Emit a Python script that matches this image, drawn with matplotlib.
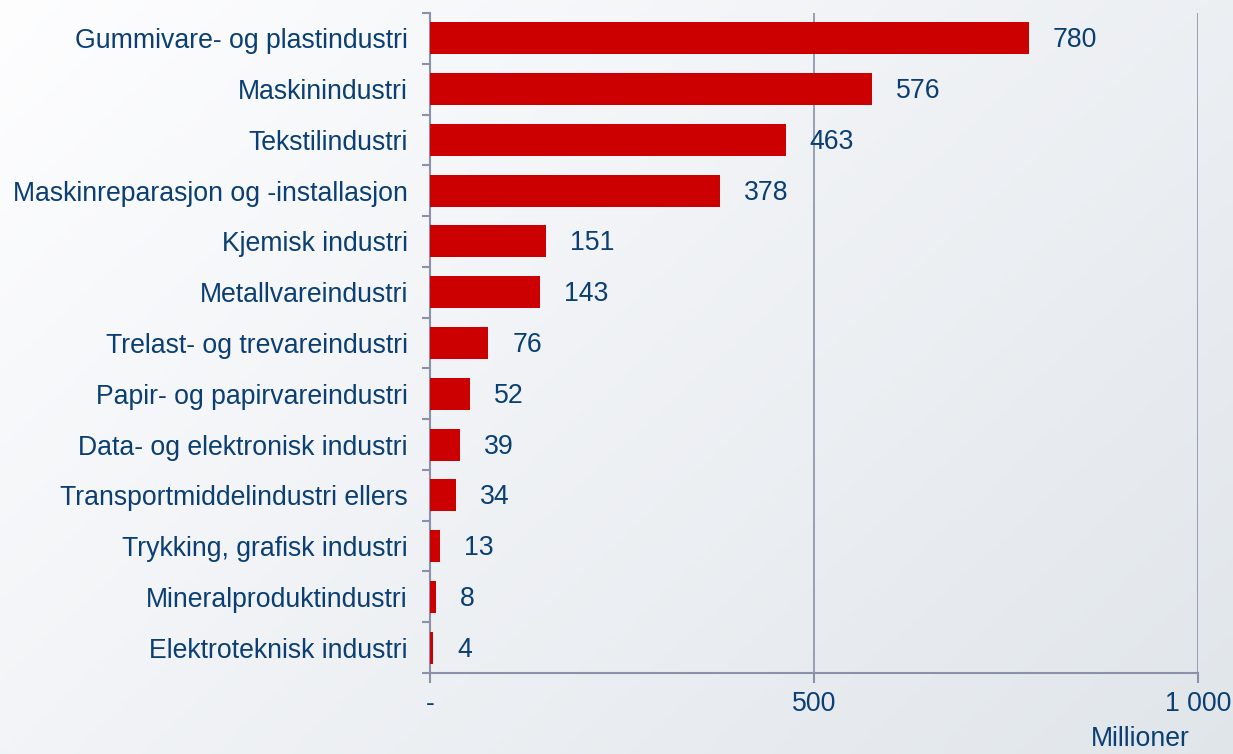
import matplotlib.pyplot as plt
import numpy as np

plt.rcParams['font.family'] = ['Liberation Sans', 'DejaVu Sans']

categories = ["Gummivare- og plastindustri", "Maskinindustri", "Tekstilindustri",
              "Maskinreparasjon og -installasjon", "Kjemisk industri", "Metallvareindustri",
              "Trelast- og trevareindustri", "Papir- og papirvareindustri",
              "Data- og elektronisk industri", "Transportmiddelindustri ellers",
              "Trykking, grafisk industri", "Mineralproduktindustri", "Elektroteknisk industri"]
values = [780, 576, 463, 378, 151, 143, 76, 52, 39, 34, 13, 8, 4]
xticks = [0, 500, 1000]
xticklabels = ["-", "500", "1 000"]

textc = "#0b3f73"
gridc = "#8a91a8"
red = "#cc0000"
fs = 19.2

fig = plt.figure(figsize=(12.33, 7.54), dpi=100)

# background gradient
bg = fig.add_axes([0, 0, 1, 1], zorder=-10)
xx, yy = np.meshgrid(np.linspace(0, 1, 200), np.linspace(0, 1, 200))
t = (xx * 0.6 + yy * 0.4)
c0 = np.array([0.995, 0.995, 1.0])
c1 = np.array([0.88, 0.90, 0.92])
img = c0 + (c1 - c0) * t[..., None]
bg.imshow(img, aspect='auto', extent=[0, 1, 0, 1], origin='upper')
bg.axis('off')

ax = fig.add_axes([430 / 1233, 81 / 754, 768 / 1233, 660 / 754])
ax.patch.set_alpha(0)
n = len(categories)
ypos = np.arange(n)
ax.barh(ypos, values, height=0.63, color=red, zorder=3)
ax.set_ylim(n - 0.5, -0.5)
ax.set_xlim(0, 1000)

for y, v in zip(ypos, values):
    ax.annotate(str(v), (v, y), xytext=(24, -2), textcoords='offset pixels',
                va='center', ha='left', fontsize=fs, color=textc)

ax.set_yticks(ypos)
ax.set_yticklabels(categories, fontsize=fs, color=textc)
ax.set_yticks(np.arange(-0.5, n, 1), minor=True)
ax.tick_params(axis='y', which='major', length=0, pad=16)
ax.tick_params(axis='y', which='minor', length=6, color=gridc, width=1.5)

ax.set_xticks(xticks)
ax.set_xticklabels(xticklabels, fontsize=fs, color=textc)
ax.tick_params(axis='x', length=7, color=gridc, width=1.5, pad=6)

for s in ['top', 'right']:
    ax.spines[s].set_visible(False)
for s in ['left', 'bottom']:
    ax.spines[s].set_color(gridc)
    ax.spines[s].set_linewidth(1.5)

for xv in xticks[1:]:
    ax.axvline(xv, color=gridc, lw=1.2, zorder=1)

fig.text(1140 / 1233, 2 / 754, "Millioner", ha='center', va='bottom',
         fontsize=fs, color=textc)

fig.savefig("out.png", dpi=100)
